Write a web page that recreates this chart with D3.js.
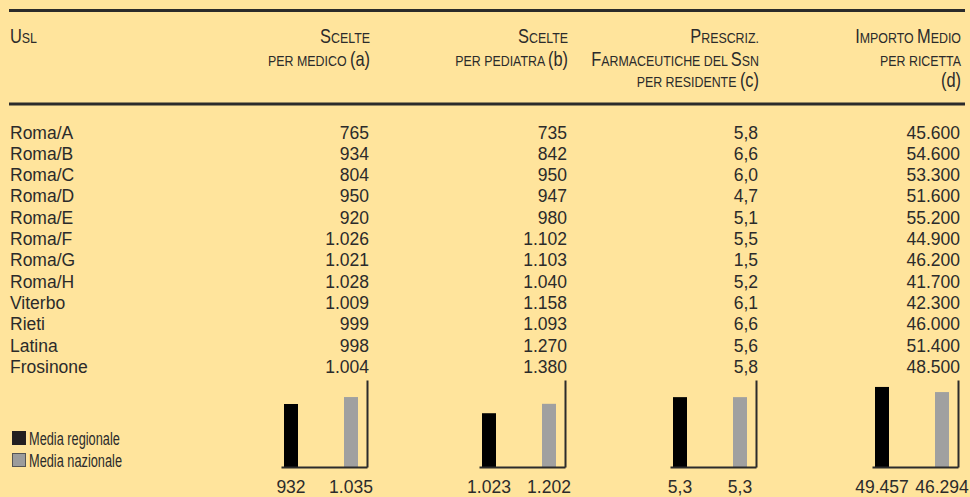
<!DOCTYPE html>
<html>
<head>
<meta charset="utf-8">
<script src="https://cdn.jsdelivr.net/npm/d3@7"></script>
<style>
  html, body { margin: 0; padding: 0; background: #ffe49c; }
  svg { display: block; }
  text { fill: #2b2b2b; }
</style>
</head>
<body>
<svg id="chart" width="970" height="497"></svg>
<script>
// ---- data ----
const usl = ["Roma/A","Roma/B","Roma/C","Roma/D","Roma/E","Roma/F","Roma/G","Roma/H","Viterbo","Rieti","Latina","Frosinone"];
const sceltePerMedico   = [765, 934, 804, 950, 920, 1026, 1021, 1028, 1009, 999, 998, 1004];
const sceltePerPediatra = [735, 842, 950, 947, 980, 1102, 1103, 1040, 1158, 1093, 1270, 1380];
const prescrizioni      = [5.8, 6.6, 6.0, 4.7, 5.1, 5.5, 1.5, 5.2, 6.1, 6.6, 5.6, 5.8];
const importoMedio      = [45600, 54600, 53300, 51600, 55200, 44900, 46200, 41700, 42300, 46000, 51400, 48500];
const mediaRegionale    = [932, 1023, 5.3, 49457];
const mediaNazionale    = [1035, 1202, 5.3, 46294];
const axisMax           = [1287, 1655, 6.6, 53750];
const headerUsl     = ["Usl"];
const headerMedico  = ["Scelte", "per medico (a)"];
const headerPediatra= ["Scelte", "per pediatra (b)"];
const headerPrescr  = ["Prescriz.", "Farmaceutiche del Ssn", "per residente (c)"];
const headerImporto = ["Importo Medio", "per ricetta", "(d)"];
const legendLabels  = ["Media regionale", "Media nazionale"];

// ---- layout ----
const W = 970, H = 497;
const svg = d3.select("#chart");
svg.append("rect").attr("width", W).attr("height", H).attr("fill", "#ffe49c");

const it = d3.formatLocale({decimal: ",", thousands: ".", grouping: [3], currency: ["€", ""]});
const fInt = it.format(",d"), fDec = it.format(",.1f");

const BODY_FONT = "'Liberation Sans', Arial, sans-serif";
const BODY_SIZE = 17.5;
const NARROW = 0.8;   // horizontal squeeze for the condensed header face
const LEG_NARROW = 0.73;

const colRight = [369, 567, 758, 960];
const columns = [
  {values: sceltePerMedico, fmt: fInt, header: headerMedico},
  {values: sceltePerPediatra, fmt: fInt, header: headerPediatra},
  {values: prescrizioni, fmt: fDec, header: headerPrescr},
  {values: importoMedio, fmt: fInt, header: headerImporto}
];

// rules
const ruleColor = "#2b2b2b";
svg.append("line").attr("x1", 9).attr("x2", 965).attr("y1", 10.5).attr("y2", 10.5)
  .attr("stroke", ruleColor).attr("stroke-width", 3);
svg.append("line").attr("x1", 9).attr("x2", 965).attr("y1", 104).attr("y2", 104)
  .attr("stroke", ruleColor).attr("stroke-width", 3);

// small caps helper: capitals big, lowercase small uppercase, footnote marks normal
function smallCaps(textSel, str, big, small) {
  const parts = str.split(/(\([a-d]\))/).filter(s => s.length);
  parts.forEach(p => {
    if (/^\([a-d]\)$/.test(p)) {
      textSel.append("tspan").attr("font-size", big).text(p);
      return;
    }
    const runs = p.match(/([a-zàèéìòù\s\.]+|[^a-zàèéìòù\s\.]+)/g) || [];
    runs.forEach(r => {
      if (/^[^a-zàèéìòù\s\.]+$/.test(r)) {
        textSel.append("tspan").attr("font-size", big).text(r);
      } else {
        textSel.append("tspan").attr("font-size", small)
          .style("text-transform", "uppercase").text(r);
      }
    });
  });
}
function narrowText(x, y, anchor, sx) {
  return svg.append("g").attr("transform", `translate(${x},${y}) scale(${sx},1)`)
    .append("text").attr("text-anchor", anchor).attr("font-family", BODY_FONT);
}

const headerBase = [43, 66, 87];
const HB = 20.5, HS = 15.5;
headerUsl.forEach((h, i) => smallCaps(narrowText(10, headerBase[i], "start", NARROW), h, HB, HS));
columns.forEach((c, ci) => {
  c.header.forEach((h, i) => smallCaps(narrowText(colRight[ci] + 1, headerBase[i], "end", NARROW), h, HB, HS));
});

// rows
const yRow = d3.scalePoint().domain(usl).range([138.5, 138.5 + 11 * 21.3]);
svg.append("g").selectAll("text").data(usl).join("text")
  .attr("x", 10).attr("y", d => yRow(d))
  .attr("font-family", BODY_FONT).attr("font-size", BODY_SIZE)
  .text(d => d);
columns.forEach((c, ci) => {
  svg.append("g").selectAll("text").data(c.values).join("text")
    .attr("x", colRight[ci]).attr("y", (d, i) => yRow(usl[i]))
    .attr("text-anchor", "end")
    .attr("font-family", BODY_FONT).attr("font-size", BODY_SIZE)
    .text(d => c.fmt(d));
});

// mini bar charts
const baseY = 467, topY = 380;
const series = ["regionale", "nazionale"];
const barColors = {regionale: "#000000", nazionale: "#a0a0a0"};
columns.forEach((c, ci) => {
  const A = colRight[ci] - 2;
  const x = d3.scaleBand().domain(series).range([A - 86, A])
    .paddingInner(0.7667).paddingOuter(0.1).align(0.25);
  const y = d3.scaleLinear().domain([0, axisMax[ci]]).range([baseY, topY]);
  const vals = [mediaRegionale[ci], mediaNazionale[ci]];
  const g = svg.append("g");
  g.selectAll("rect").data(vals).join("rect")
    .attr("x", (d, i) => x(series[i]))
    .attr("width", x.bandwidth())
    .attr("y", d => y(d))
    .attr("height", d => baseY - y(d))
    .attr("fill", (d, i) => barColors[series[i]]);
  const ax = g.append("g").attr("transform", `translate(0,${baseY})`)
    .call(d3.axisBottom(x).tickSize(0).tickSizeOuter(0).tickFormat(() => ""));
  ax.select(".domain").attr("stroke", ruleColor).attr("stroke-width", 2);
  ax.selectAll(".tick").remove();
  const ay = g.append("g").attr("transform", `translate(${A},0)`)
    .call(d3.axisRight(y).ticks(0).tickSize(0).tickSizeOuter(0));
  ay.select(".domain").attr("stroke", ruleColor).attr("stroke-width", 2);
  ay.selectAll(".tick").remove();
  g.selectAll("text.val").data(vals).join("text").attr("class", "val")
    .attr("x", (d, i) => x(series[i]) + x.bandwidth() / 2)
    .attr("y", 493)
    .attr("text-anchor", "middle")
    .attr("font-family", BODY_FONT).attr("font-size", BODY_SIZE)
    .text(d => c.fmt(d));
});

// legend
const legY = [431, 453];
legendLabels.forEach((l, i) => {
  svg.append("rect").attr("x", 12.5).attr("y", legY[i] + 0.5).attr("width", 13).attr("height", 13)
    .attr("fill", i === 0 ? "#231f20" : "#9c9c9c")
    .attr("stroke", i === 0 ? "#231f20" : "#555").attr("stroke-width", 1);
  narrowText(29, legY[i] + 14, "start", LEG_NARROW).attr("font-size", 17.5).text(l);
});
</script>
</body>
</html>
